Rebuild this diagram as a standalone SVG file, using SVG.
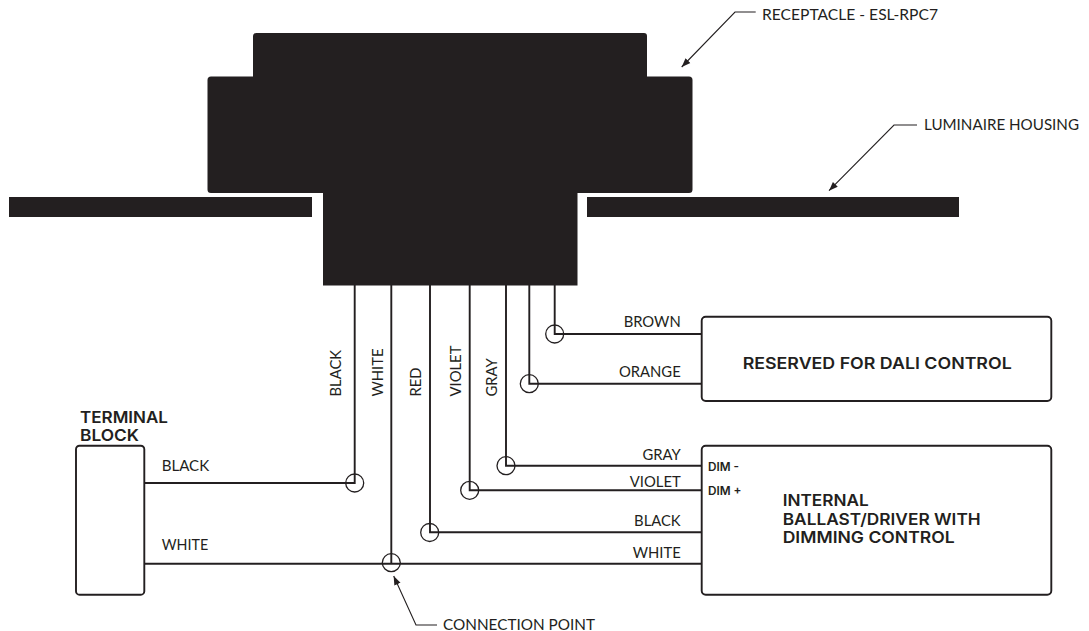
<svg xmlns="http://www.w3.org/2000/svg" width="1089" height="631" viewBox="0 0 1089 631">
<style>
text{font-family:"Lato","Liberation Sans",sans-serif;fill:#231f20;font-size:14.8px}
.b{font-family:"Inter","Lato",sans-serif;font-weight:600;font-size:16.2px}
.s{font-family:"Inter","Lato",sans-serif;font-weight:600;font-size:11.5px}
.e{text-anchor:end}
.k{fill:#231f20;stroke:none}
.box{fill:#fff;stroke:#231f20;stroke-width:1.9}
.w{fill:none;stroke:#231f20;stroke-width:1.9}
.c{fill:none;stroke:#231f20;stroke-width:1.3}
.l{fill:none;stroke:#231f20;stroke-width:1.1;marker-end:url(#a)}
</style>
<defs><marker id="a" markerUnits="userSpaceOnUse" markerWidth="10" markerHeight="8" refX="9" refY="4" orient="auto"><path d="M0 0.6L9 4L0 7.4z" fill="#231f20"/></marker></defs>
<g id="receptacle">
<path class="k" d="M256.500 33H644a3 3 0 0 1 3 3V76.500H689a3.500 3.500 0 0 1 3.500 3.500V189.500a3.500 3.500 0 0 1-3.500 3.500H577.500V285.500H323V193H211a3.500 3.500 0 0 1-3.500-3.500V80a3.500 3.500 0 0 1 3.500-3.500H253V36.500a3.500 3.500 0 0 1 3.500-3.500z"/>
</g>
<g id="housing">
<rect class="k" x="9" y="197" width="303" height="20"/>
<rect class="k" x="587" y="197" width="372" height="20"/>
</g>
<g id="terminal-block">
<rect class="box" x="76" y="445.700" width="68.300" height="149" rx="3.500"/>
<text class="b" x="80" y="422.700" textLength="88" lengthAdjust="spacingAndGlyphs">TERMINAL</text>
<text class="b" x="80" y="441" textLength="59" lengthAdjust="spacingAndGlyphs">BLOCK</text>
</g>
<g id="dali-box">
<rect class="box" x="701.700" y="316.700" width="349.600" height="84.300" rx="4"/>
<text class="b" x="742.700" y="369" textLength="269" lengthAdjust="spacingAndGlyphs">RESERVED FOR DALI CONTROL</text>
</g>
<g id="driver-box">
<rect class="box" x="701.700" y="445.700" width="349.600" height="149" rx="4"/>
<text class="s" x="708" y="471" textLength="31" lengthAdjust="spacingAndGlyphs">DIM -</text>
<text class="s" x="708" y="495" textLength="33.500" lengthAdjust="spacingAndGlyphs">DIM +</text>
<text class="b" x="782.700" y="506" textLength="86" lengthAdjust="spacingAndGlyphs">INTERNAL</text>
<text class="b" x="782.700" y="525.300" textLength="198" lengthAdjust="spacingAndGlyphs">BALLAST/DRIVER WITH</text>
<text class="b" x="782.700" y="543.300" textLength="172" lengthAdjust="spacingAndGlyphs">DIMMING CONTROL</text>
</g>
<g id="connectors">
<path class="w" d="M354.700 285V483H144.300"/>
<path class="w" d="M391.300 285V563.700"/>
<path class="w" d="M144.300 563.700H701.700"/>
<path class="w" d="M430 285V532.300H701.700"/>
<path class="w" d="M469.700 285V490.300H701.700"/>
<path class="w" d="M506 285V465.700H701.700"/>
<path class="w" d="M529.300 285V383.700H701.700"/>
<path class="w" d="M554.700 285V334H701.700"/>
<circle class="c" cx="354.700" cy="483" r="9"/>
<circle class="c" cx="391.300" cy="562.700" r="9"/>
<circle class="c" cx="429.700" cy="532.500" r="9"/>
<circle class="c" cx="469.700" cy="490.300" r="9"/>
<circle class="c" cx="506" cy="465.700" r="9"/>
<circle class="c" cx="529.300" cy="383.700" r="9"/>
<circle class="c" cx="554.700" cy="334" r="9"/>
<path class="l" d="M755.700 12H735L681.700 67"/>
<path class="l" d="M917 125H894L829 190.700"/>
<path class="l" d="M437 625H416L393.700 576"/>
</g>
<g id="labels">
<text x="762" y="20" textLength="176" lengthAdjust="spacingAndGlyphs">RECEPTACLE - ESL-RPC7</text>
<text x="924" y="130" textLength="155" lengthAdjust="spacingAndGlyphs">LUMINAIRE HOUSING</text>
<text x="443" y="629.500" textLength="152" lengthAdjust="spacingAndGlyphs">CONNECTION POINT</text>
<text x="161.700" y="471" textLength="47.500" lengthAdjust="spacingAndGlyphs">BLACK</text>
<text x="161.700" y="550" textLength="46.500" lengthAdjust="spacingAndGlyphs">WHITE</text>
<text class="e" x="680.700" y="327">BROWN</text>
<text class="e" x="680.700" y="377">ORANGE</text>
<text class="e" x="680.700" y="460">GRAY</text>
<text class="e" x="680.700" y="486.700">VIOLET</text>
<text class="e" x="680.700" y="526">BLACK</text>
<text class="e" x="680.700" y="558.300">WHITE</text>
<text transform="translate(341 396.500) rotate(-90)">BLACK</text>
<text transform="translate(382.700 396.500) rotate(-90)">WHITE</text>
<text transform="translate(421 396.500) rotate(-90)">RED</text>
<text transform="translate(460.700 396.500) rotate(-90)">VIOLET</text>
<text transform="translate(496.700 396.500) rotate(-90)">GRAY</text>
</g>
</svg>
